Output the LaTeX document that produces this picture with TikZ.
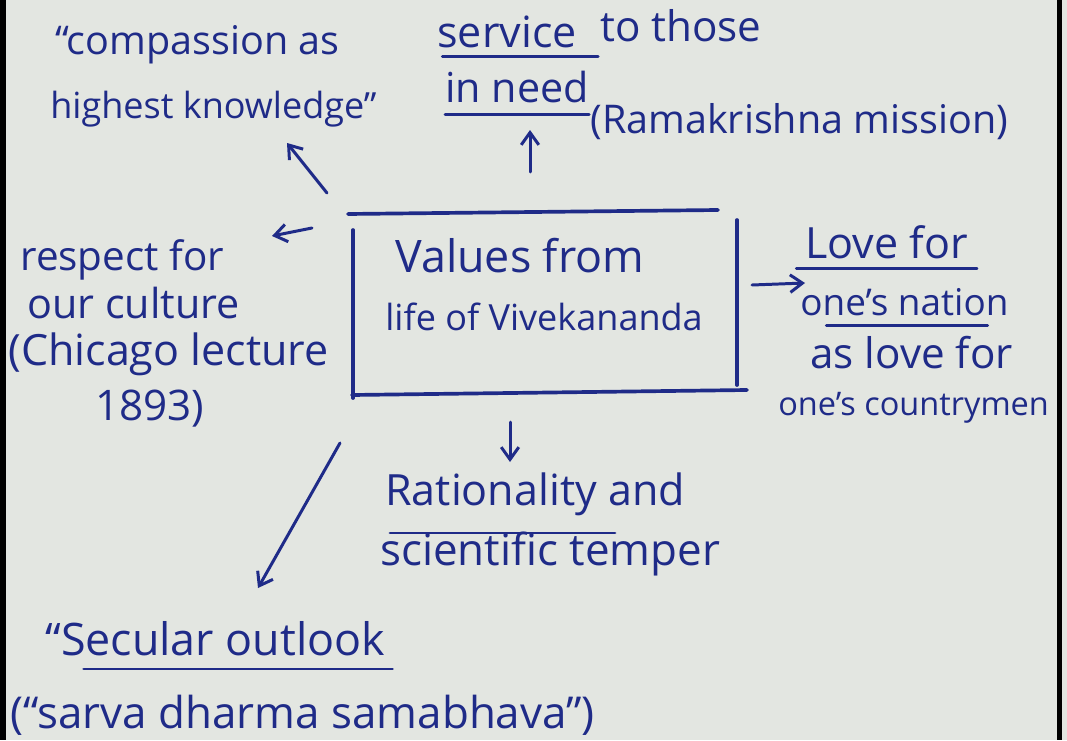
\documentclass[tikz,border=0pt]{standalone}
\usepackage{fontspec}
\setmainfont{Open Sans}
\usetikzlibrary{arrows.meta}
\definecolor{paper}{HTML}{E3E6E1}
\definecolor{ink}{HTML}{1F2B88}
\newcommand{\fs}[1]{\fontsize{#1}{#1}\selectfont}
\tikzset{
  hand/.style={text=ink, font=\fs{22}, inner sep=0pt, anchor=base west},
  pen/.style={draw=ink, line width=1.7pt, line cap=round},
  arr/.style={pen, -{Straight Barb[length=7pt,width=10pt]}},
  uline/.style={draw=ink, line width=1.6pt, line cap=round},
  boxline/.style={draw=ink, line width=2.1pt, line cap=round}
}
\begin{document}
\begin{tikzpicture}[x=0.02cm,y=-0.02cm]
% sheet and its dark edges
\useasboundingbox (0,0) rectangle (1067,740);
\fill[paper] (0,0) rectangle (1067,740);
\fill[black] (0,0) rectangle (6,740);
\fill[black] (1057,0) rectangle (1062,740);

% central box
\node[hand, font=\fs{25.5}] (v1) at (395,272) {Values from};
\node[hand, font=\fs{20.5}] (v2) at (385,330) {life of Vivekananda};
\coordinate (bTL) at (348,214);
\coordinate (bTR) at (718,210);
\coordinate (bLT) at (353,230);
\coordinate (bLB) at (353,398);
\coordinate (bBL) at (352,395);
\coordinate (bBR) at (747,390);
\coordinate (bRT) at (737,220);
\coordinate (bRB) at (737,385);
\draw[boxline] (bTL) -- (bTR);
\draw[boxline] (bLT) -- (bLB);
\draw[boxline] (bBL) -- (bBR);
\draw[boxline] (bRT) -- (bRB);

% upper left
\node[hand, font=\fs{22.5}] (c1) at (55,55) {“compassion as};
\node[hand, font=\fs{20.5}] (c2) at (50,118) {highest knowledge”};
\coordinate (cA) at (327,193);
\coordinate (cB) at (287,143);
\draw[arr] (cA) -- (cB);

% top
\node[hand, font=\fs{24.5}] (s1) at (437,48) {service};
\node[hand, font=\fs{24}] (s1b) at (600,42) {to those};
\node[hand, font=\fs{23.5}] (s2) at (445,102) {in need};
\node[hand, font=\fs{22.5}] (rk) at (590,133) {(Ramakrishna mission)};
\draw[uline] ([yshift=-5pt,xshift=3pt]s1.base west) -- ([yshift=-5pt,xshift=12pt]s1.base east);
\draw[uline] ([yshift=-7pt]s2.base west) -- ([yshift=-7pt]s2.base east);
\coordinate (sA) at (530,172);
\coordinate (sB) at (530,130);
\draw[arr] (sA) -- (sB);

% left
\node[hand, font=\fs{23}] (r1) at (20,270) {respect for};
\node[hand, font=\fs{23.5}] (r2) at (27,318) {our culture};
\node[hand, font=\fs{24.5}] (r3) at (8,365) {(Chicago lecture};
\node[hand, font=\fs{24}] (r4) at (95,420) {1893)};
\coordinate (rA) at (312,228);
\coordinate (rB) at (272,236);
\draw[arr] (rA) -- (rB);

% right
\node[hand, font=\fs{24.5}] (l1) at (805,258) {Love for};
\node[hand, font=\fs{21}] (l2) at (800,315) {one's nation};
\node[hand, font=\fs{24}] (l3) at (810,368) {as love for};
\node[hand, font=\fs{18.5}] (l4) at (778,415) {one's countrymen};
\draw[uline] ([yshift=-6pt,xshift=-5pt]l1.base west) -- ([yshift=-6pt,xshift=5pt]l1.base east);
\draw[uline] ([yshift=-6pt,xshift=15pt]l2.base west) -- ([yshift=-6pt,xshift=-12pt]l2.base east);
\coordinate (lA) at (752,285);
\coordinate (lB) at (805,283);
\draw[arr] (lA) -- (lB);

% bottom
\node[hand, font=\fs{24.5}] (t1) at (385,505) {Rationality and};
\node[hand, font=\fs{25}] (t2) at (380,565) {scientific temper};
\draw[uline] (390,533) -- (615,533);
\coordinate (tA) at (510,422);
\coordinate (tB) at (510,462);
\draw[arr] (tA) -- (tB);

% lower left
\node[hand, font=\fs{25.5}] (u1) at (45,655) {“Secular outlook};
\node[hand, font=\fs{25}] (u2) at (10,728) {(“sarva dharma samabhava”)};
\draw[uline] ([yshift=-8pt,xshift=22pt]u1.base west) -- ([yshift=-8pt,xshift=4pt]u1.base east);
\coordinate (uA) at (340,443);
\coordinate (uB) at (258,588);
\draw[arr] (uA) -- (uB);
\end{tikzpicture}
\end{document}
